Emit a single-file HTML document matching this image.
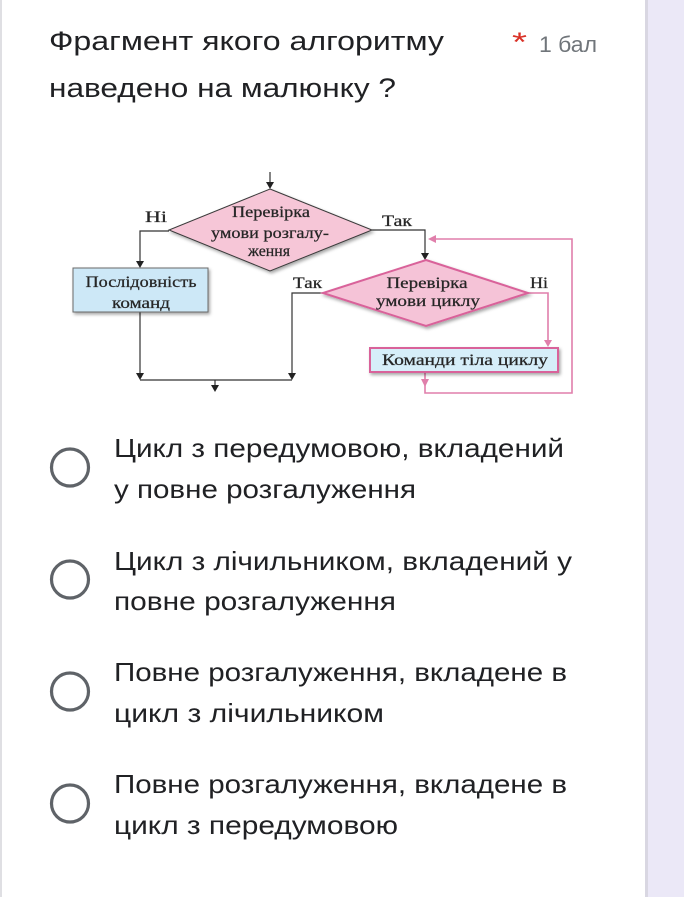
<!DOCTYPE html>
<html><head><meta charset="utf-8"><style>
html,body{margin:0;padding:0;background:#fff;}
body{width:684px;height:897px;overflow:hidden;position:relative;}
svg{position:absolute;left:0;top:0;}
</style></head><body>
<svg width="684" height="897" viewBox="0 0 684 897" xmlns="http://www.w3.org/2000/svg">
<defs>
<filter id="sh" x="-10%" y="-10%" width="130%" height="140%">
<feDropShadow dx="1.5" dy="2" stdDeviation="1.5" flood-color="#000" flood-opacity="0.35"/>
</filter>
</defs>
<rect x="0" y="0" width="684" height="897" fill="#fff"/>
<rect x="0" y="0" width="2" height="897" fill="#dfdfe3"/>
<rect x="645" y="0" width="3" height="897" fill="#d9d7e2"/>
<rect x="648" y="0" width="36" height="897" fill="#ebe8f7"/>

<g font-family="'Liberation Sans', sans-serif" fill="#202124">
<text x="49" y="50" font-size="27" textLength="395" lengthAdjust="spacingAndGlyphs">Фрагмент якого алгоритму</text>
<text x="49" y="97" font-size="27" textLength="347" lengthAdjust="spacingAndGlyphs">наведено на малюнку ?</text>
<text x="512" y="51" font-size="27" fill="#d93025" textLength="15" lengthAdjust="spacingAndGlyphs">*</text>
<text x="539" y="52" font-size="22" fill="#70757a" textLength="58" lengthAdjust="spacingAndGlyphs">1 бал</text>

<text x="114" y="457" font-size="26" textLength="450" lengthAdjust="spacingAndGlyphs">Цикл з передумовою, вкладений</text>
<text x="114" y="498" font-size="26" textLength="302" lengthAdjust="spacingAndGlyphs">у повне розгалуження</text>
<text x="114" y="570" font-size="26" textLength="458" lengthAdjust="spacingAndGlyphs">Цикл з лічильником, вкладений у</text>
<text x="114" y="610" font-size="26" textLength="282" lengthAdjust="spacingAndGlyphs">повне розгалуження</text>
<text x="114" y="681" font-size="26" textLength="453" lengthAdjust="spacingAndGlyphs">Повне розгалуження, вкладене в</text>
<text x="114" y="722" font-size="26" textLength="270" lengthAdjust="spacingAndGlyphs">цикл з лічильником</text>
<text x="114" y="793" font-size="26" textLength="453" lengthAdjust="spacingAndGlyphs">Повне розгалуження, вкладене в</text>
<text x="114" y="834" font-size="26" textLength="284" lengthAdjust="spacingAndGlyphs">цикл з передумовою</text>
</g>
<g fill="none" stroke="#5f6368" stroke-width="3.2">
<circle cx="70" cy="467.5" r="18.5"/>
<circle cx="70" cy="579.5" r="18.5"/>
<circle cx="70" cy="691.5" r="18.5"/>
<circle cx="70" cy="803.5" r="18.5"/>
</g>

<!-- Diagram -->
<g stroke="#333" stroke-width="1.2" fill="none">
<line x1="270" y1="172" x2="270" y2="183"/>
<polyline points="169,231 140,231 140,262"/>
<line x1="140" y1="312" x2="140" y2="374"/>
<line x1="140" y1="380" x2="292" y2="380"/>
<line x1="215" y1="380" x2="215" y2="386"/>
<polyline points="323,293 292,293 292,374"/>
<polyline points="372,230 425,230 425,254"/>
</g>
<g fill="#222">
<polygon points="266,182 274,182 270,189"/>
<polygon points="136,261 144,261 140,268"/>
<polygon points="136,373 144,373 140,380"/>
<polygon points="288,373 296,373 292,380"/>
<polygon points="211,385 219,385 215,392"/>
<polygon points="421,253 429,253 425,260"/>
</g>

<g stroke="#e07fab" stroke-width="1.6" fill="none">
<polyline points="528,293 548,293 548,341"/>
<polyline points="425,372 425,393 572,393 572,239 435,239"/>
</g>
<g fill="#e07fab">
<polygon points="544,340 552,340 548,347"/>
<polygon points="421,379 429,379 425,387"/>
<polygon points="436,235 436,243 428,239"/>
</g>

<polygon points="270,189 372,230 270,271 169,230" fill="#f6c6d7" stroke="#3a3a3a" stroke-width="1" filter="url(#sh)"/>
<rect x="73" y="268" width="135" height="44" fill="#cde8f7" stroke="#6a6a6a" stroke-width="1" filter="url(#sh)"/>
<polygon points="426,260 528,293 426,326 323,293" fill="#f5c3d7" stroke="#d9629a" stroke-width="2" filter="url(#sh)"/>
<rect x="370" y="348" width="188" height="24" fill="#d6eef9" stroke="#d9629a" stroke-width="2" filter="url(#sh)"/>

<g font-family="'Liberation Serif', serif" font-size="15.5" fill="#262626" stroke="#262626" stroke-width="0.25" text-anchor="middle">
<text x="271" y="217" textLength="78" lengthAdjust="spacingAndGlyphs">Перевірка</text>
<text x="270" y="238" textLength="118" lengthAdjust="spacingAndGlyphs">умови розгалу-</text>
<text x="269" y="256" textLength="42" lengthAdjust="spacingAndGlyphs">ження</text>
<text x="141" y="287" textLength="111" lengthAdjust="spacingAndGlyphs">Послідовність</text>
<text x="141" y="308" textLength="58" lengthAdjust="spacingAndGlyphs">команд</text>
<text x="427" y="288" textLength="81" lengthAdjust="spacingAndGlyphs">Перевірка</text>
<text x="428" y="306" textLength="104" lengthAdjust="spacingAndGlyphs">умови циклу</text>
<text x="465" y="365" textLength="166" lengthAdjust="spacingAndGlyphs">Команди тіла циклу</text>
<text x="156" y="222" textLength="22" lengthAdjust="spacingAndGlyphs">Ні</text>
<text x="397" y="226" textLength="30" lengthAdjust="spacingAndGlyphs">Так</text>
<text x="307.5" y="288" textLength="29" lengthAdjust="spacingAndGlyphs">Так</text>
<text x="539" y="288" textLength="18" lengthAdjust="spacingAndGlyphs">Ні</text>
</g>
</svg>
</body></html>
